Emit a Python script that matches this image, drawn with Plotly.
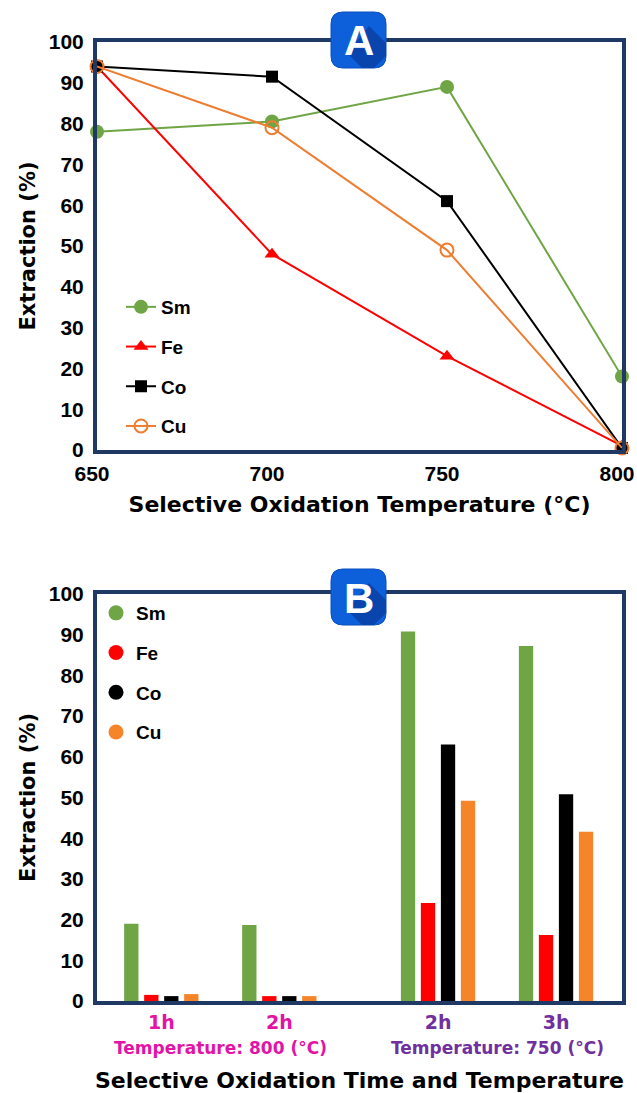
import plotly.graph_objects as go

# ---------------- data ----------------
temps = [650, 700, 750, 800]
temp_tick_labels = ["650", "700", "750", "800"]
sm_a = [78, 80.5, 89, 18]
fe_a = [94, 48, 23, 1]
co_a = [94, 91.5, 61, 0.5]
cu_a = [94, 79, 49, 0.5]

time_labels = ["1h", "2h", "2h", "3h"]
label_colors = ["#E313A6", "#E313A6", "#7030A0", "#7030A0"]
temp_labels = ["Temperature: 800 (°C)", "Temperature: 750 (°C)"]
sm_b = [19.0, 18.7, 90.8, 87.2]
fe_b = [1.5, 1.2, 24.1, 16.2]
co_b = [1.2, 1.2, 63.0, 50.8]
cu_b = [1.7, 1.2, 49.2, 41.6]

# ---------------- layout constants ----------------
group_pos = [1, 2, 3.345, 4.345]
W, H = 637, 1093
PL, PR, PT, PB = 97, 622, 42, 1001  # plot-area edges in page pixels
ML, MR, MT, MB = PL, W - PR, PT, H - PB
PW, PH = PR - PL, PB - PT
NAVY = "#1F3864"
GREEN, RED, BLACK, ORANGE = "#6FA544", "#FF0000", "#000000", "#EE7D31"
BAR_ORANGE = "#F6852A"
FONT = "Liberation Sans, Arial, sans-serif"
TFONT = "DejaVu Sans, Liberation Sans, sans-serif"


def px(x):
    return (x - PL) / PW


def py(y):
    return (PB - y) / PH


fig = go.Figure()

# ---- panel A ----
series_a = [
    ("Sm", sm_a, GREEN, dict(symbol="circle", size=14, color=GREEN)),
    ("Fe", fe_a, RED, dict(symbol="triangle-up", size=13, color=RED)),
    ("Co", co_a, BLACK, dict(symbol="square", size=12, color=BLACK)),
    ("Cu", cu_a, ORANGE, dict(symbol="circle-open", size=13, color=ORANGE,
                             line=dict(width=2, color=ORANGE))),
]
for name, vals, col, mk in series_a:
    fig.add_trace(go.Scatter(
        x=temps, y=vals, name=name, mode="lines+markers",
        line=dict(color=col, width=2), marker=mk, cliponaxis=False,
        xaxis="x", yaxis="y", legend="legend", legendgroup="a" + name,
    ))

# ---- panel B ----
series_b = [("Sm", sm_b, GREEN), ("Fe", fe_b, RED), ("Co", co_b, BLACK), ("Cu", cu_b, BAR_ORANGE)]
for name, vals, col in series_b:
    fig.add_trace(go.Bar(
        x=group_pos, y=vals, name=name, marker=dict(color=col, line=dict(width=0)),
        xaxis="x2", yaxis="y2", showlegend=False,
    ))
for name, vals, col in series_b:
    fig.add_trace(go.Scatter(
        x=[None], y=[None], name=name, mode="markers",
        marker=dict(symbol="circle", size=15, color=col),
        xaxis="x2", yaxis="y2", legend="legend2", legendgroup="b" + name,
    ))

axis_common = dict(showline=True, mirror=True, linecolor=NAVY, linewidth=4,
                   showgrid=False, zeroline=False, ticks="", automargin=False)
tick_font = dict(family=FONT, size=21, color="black", weight="bold")
ytitle_font = dict(family=TFONT, size=21, color="black", weight="bold")

fig.update_layout(
    width=W, height=H, margin=dict(l=ML, r=MR, t=MT, b=MB, autoexpand=False),
    paper_bgcolor="white", plot_bgcolor="white",
    barmode="group", bargap=0.322, bargroupgap=0.285,
    xaxis=dict(domain=[0, 1], anchor="y", range=[650, 800], tickvals=temps,
               ticktext=temp_tick_labels, ticklabelshift=-5,
               ticklabelstandoff=2, ticklabeloverflow="allow", tickfont=tick_font,
               title=dict(text="Selective Oxidation Temperature (°C)", standoff=13,
                          font=dict(family=TFONT, size=22, color="black", weight="bold")),
               **axis_common),
    yaxis=dict(domain=[py(450), 1], anchor="x", range=[0, 100], dtick=10,
               ticklabelstandoff=5, tickfont=tick_font,
               title=dict(text="Extraction (%)", standoff=8, font=ytitle_font),
               **axis_common),
    xaxis2=dict(domain=[0, 1], anchor="y2", range=[0.455, 4.904], tickvals=group_pos,
                ticktext=[f"<span style='color:{c}'>{t}</span>" for t, c in zip(time_labels, label_colors)],
                ticklabelstandoff=1,
                tickfont=dict(family=TFONT, size=19, weight="bold"),
                title=dict(text="Selective Oxidation Time and Temperature", standoff=44,
                           font=dict(family=TFONT, size=22, color="black", weight="bold")),
                **axis_common),
    yaxis2=dict(domain=[0, py(594)], anchor="x2", range=[0, 100], dtick=10,
                ticklabelstandoff=5, tickfont=tick_font,
                title=dict(text="Extraction (%)", standoff=8, font=ytitle_font),
                **axis_common),
    legend=dict(x=px(121), y=py(288), xanchor="left", yanchor="top",
                bgcolor="rgba(0,0,0,0)", traceorder="grouped", tracegroupgap=12,
                font=dict(family=FONT, size=19, color="black", weight="bold")),
    legend2=dict(x=px(96), y=py(594), xanchor="left", yanchor="top",
                 bgcolor="rgba(0,0,0,0)", traceorder="grouped", tracegroupgap=12,
                 font=dict(family=FONT, size=19, color="black", weight="bold"),
                 itemwidth=30),
)

# temperature labels under the groups
temp_x = [(group_pos[0] + group_pos[1]) / 2, (group_pos[2] + group_pos[3]) / 2]
temp_cols = ["#E313A6", "#7030A0"]
for tx, tt, tc in zip(temp_x, temp_labels, temp_cols):
    fig.add_annotation(x=tx, xref="x2", y=py(1048), yref="paper", text=tt, showarrow=False,
                       xanchor="center", yanchor="middle",
                       font=dict(family=TFONT, size=17, color=tc, weight="bold"))


# badges
def rounded_rect(x0, y0, x1, y1, r):
    X0, X1 = px(x0), px(x1)
    Y0, Y1 = py(y0), py(y1)  # Y0 top, Y1 bottom
    rx, ry = r / PW, r / PH
    return (f"M {X0+rx},{Y0} L {X1-rx},{Y0} Q {X1},{Y0} {X1},{Y0-ry} "
            f"L {X1},{Y1+ry} Q {X1},{Y1} {X1-rx},{Y1} L {X0+rx},{Y1} "
            f"Q {X0},{Y1} {X0},{Y1+ry} L {X0},{Y0-ry} Q {X0},{Y0} {X0+rx},{Y0} Z")


def poly(points):
    pts = [f"{px(x)},{py(y)}" for x, y in points]
    return "M " + " L ".join(pts) + " Z"


for letter, cy in [("A", 40), ("B", 597)]:
    x0, x1 = 331, 386
    y0, y1 = cy - 28, cy + 28
    fig.add_shape(type="path", path=rounded_rect(x0, y0, x1, y1, 12), xref="paper", yref="paper",
                  fillcolor="#0E60DA", line=dict(color="#0B4FC0", width=1), layer="above")
    fig.add_shape(type="path",
                  path=poly([(369, cy - 14), (386, cy + 3), (386, cy + 16), (374, cy + 28),
                             (362, cy + 28), (347, cy + 13)]),
                  xref="paper", yref="paper", fillcolor="#0A45AE", line=dict(width=0), layer="above")
    fig.add_annotation(x=px(358.5), y=py(cy + 1), xref="paper", yref="paper", text=letter,
                       showarrow=False, xanchor="center", yanchor="middle",
                       font=dict(family="Liberation Sans Narrow, Liberation Sans, Arial", size=42,
                                 color="white", weight="bold"))

# remove the browser's default body margin so the figure fills the window exactly
post = ("document.body.style.margin='0';"
        "document.documentElement.style.overflow='hidden';"
        "document.body.style.overflow='hidden';")
fig.write_html("out.html", post_script=post, config={"displayModeBar": False})
